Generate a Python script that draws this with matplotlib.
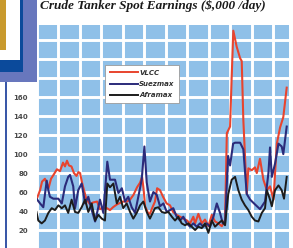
import numpy as np
import matplotlib
matplotlib.use("Agg")
import matplotlib.pyplot as plt
from matplotlib.patches import Rectangle
from matplotlib.lines import Line2D


# months from start of chart, $,000/day
vlccMonths = [0, 2.0, 3.1, 4.7, 5.9, 6.7, 8.1, 9.8, 11.4, 13.1, 14.8, 15.9, 17.0, 18.1, 19.5, 20.9,
              22.3, 23.4, 24.3, 25.4, 26.5, 27.9, 29.9, 31.5, 33.8, 35.4, 37.1, 39.3, 41.0, 42.7,
              44.9, 48.3, 50.5, 52.2, 54.1, 56.1, 57.8, 58.9, 59.7, 60.6, 62.2, 63.3, 64.5, 66.1,
              67.3, 68.9, 70.6, 72.6, 74.5, 76.2, 78.1, 80.1, 82.0, 84.0, 85.7, 87.5, 88.5, 90.3,
              92.2, 94.0, 95.9, 97.8, 99.6, 101.5, 103.4, 105.2, 106.2, 108.0, 108.9, 109.8, 111.7,
              113.6, 114.5, 115.4, 117.3, 118.2, 120.1, 121.9, 122.9, 124.7, 126.6, 128.5, 130.3,
              132.2, 134.1, 135.9, 137.7, 139.6]
vlcc = [52, 62, 71, 74, 68, 64, 74, 79, 84, 82, 91, 87, 93, 88, 87, 80, 77, 81, 80, 70,
        62, 52, 47, 49, 50, 42, 43, 43, 41, 44, 47, 50, 50, 52, 57, 65, 70, 76, 64, 45,
        38, 37, 43, 50, 64, 62, 55, 48, 46, 39, 36, 34, 32, 30, 27, 34, 27, 37, 27, 31,
        24, 36, 29, 27, 24, 31, 122, 129, 181, 230, 213, 201, 198, 136, 58, 85, 83, 86, 80, 95,
        73, 62, 66, 52, 111, 128, 139, 170]

suezMonths = [0, 2.0, 3.8, 5.7, 6.6, 7.5, 9.4, 12.2, 14.1, 15.9, 17.7, 18.7, 20.5, 21.5, 23.3,
              25.2, 27.1, 28.9, 30.8, 32.7, 34.5, 35.4, 37.3, 39.5, 41.0, 43.8, 45.7, 47.6, 49.4,
              51.2, 53.1, 55.0, 56.8, 58.7, 60.2, 61.5, 63.3, 65.2, 67.1, 68.9, 70.8, 72.7, 74.5,
              76.3, 78.2, 80.1, 81.9, 83.8, 85.7, 87.5, 89.4, 91.2, 93.1, 95.0, 96.8, 98.7, 100.6,
              102.4, 103.9, 105.2, 106.9, 108.0, 109.7, 110.8, 113.6, 115.4, 117.3, 119.2, 121.9,
              124.7, 127.5, 129.4, 130.3, 131.3, 133.1, 135.0, 136.8, 137.7, 139.6]
suezmax = [53, 48, 44, 72, 62, 55, 53, 53, 48, 66, 76, 78, 66, 43, 62, 69, 48, 55, 41, 29,
           44, 52, 38, 92, 73, 73, 59, 64, 50, 55, 44, 38, 55, 73, 108, 70, 50, 60, 57, 45,
           48, 39, 41, 43, 34, 30, 34, 27, 23.5, 27, 23.5, 27, 23.5, 27, 23.5, 34, 48, 38, 27, 27,
           98, 88, 111, 112, 112, 105, 58, 52, 47, 42, 50, 80, 107, 76, 90, 111, 108, 100, 129]

afraMonths = [0, 1.0, 2.9, 4.7, 6.6, 8.5, 10.3, 12.2, 14.1, 15.9, 17.7, 19.6, 21.5, 23.3, 25.2,
              27.1, 28.9, 30.8, 32.7, 34.5, 36.4, 38.2, 39.5, 41.0, 42.9, 44.8, 46.6, 48.4, 50.3,
              52.2, 54.0, 55.9, 57.8, 59.6, 61.5, 63.3, 66.1, 68.0, 69.9, 71.7, 73.6, 75.5, 77.3,
              79.1, 81.0, 82.9, 84.7, 86.6, 88.5, 90.3, 92.2, 94.0, 95.9, 97.8, 99.6, 101.5, 103.4,
              105.2, 107.0, 108.9, 110.8, 112.6, 114.5, 116.3, 118.2, 120.1, 121.9, 123.8, 125.7,
              127.5, 128.5, 130.3, 131.3, 133.1, 135.0, 136.8, 138.1, 139.6]
aframax = [39, 30, 27, 30, 38, 43, 41, 46, 43, 46, 38, 52, 39, 38, 44, 52, 39, 48, 30, 36,
           32, 30, 69, 65, 69, 48, 55, 43, 48, 39, 32, 38, 46, 50, 39, 32, 43, 44, 39, 38,
           39, 34, 30, 34, 27, 25, 27, 23.5, 20, 23.5, 22, 27, 17, 30, 23.5, 27, 30, 25, 58, 73,
           76, 62, 52, 46, 41, 34, 30, 29, 38, 43, 62, 52, 45, 62, 67, 62, 53, 76]

seriesNames = ["VLCC", "Suezmax", "Aframax"]
seriesColors = ["#e8442e", "#2b2b7a", "#1c1c1c"]
yTicks = [20, 40, 60, 80, 100, 120, 140, 160]
titleText = "Crude Tanker Spot Earnings ($,000 /day)"

W, H = 293, 248


def pxRect(x0, y0, x1, y1, color, z=10):
    # pixel box (top-left origin) -> figure rectangle
    return Rectangle((x0 / W, 1 - y1 / H), (x1 - x0) / W, (y1 - y0) / H,
                     transform=fig.transFigure, facecolor=color, edgecolor="none", zorder=z)


fig = plt.figure(figsize=(W / 100, H / 100), dpi=100)
fig.patch.set_facecolor("white")

ax = fig.add_axes([36.5 / W, -1 / H, 252 / W, 224 / H])
ax.set_facecolor("#8fc0e8")
ax.set_xlim(0, 140.6)
ax.set_ylim(0, 236)
ax.set_xticks(np.arange(0, 141, 12))
ax.set_yticks(np.arange(0, 236, 20))
ax.grid(True, color="white", linewidth=2.1)
ax.set_axisbelow(True)
for s in ax.spines.values():
    s.set_visible(False)
ax.tick_params(length=0, labelbottom=False, pad=6)
ax.set_yticklabels([str(v) if v in yTicks else "" for v in np.arange(0, 236, 20)],
                   fontsize=5, color="#4a4a4a", fontweight="bold")

ax.plot(vlccMonths, vlcc, color=seriesColors[0], lw=1.5)
ax.plot(suezMonths, suezmax, color=seriesColors[1], lw=1.5)
ax.plot(afraMonths, aframax, color=seriesColors[2], lw=1.4)

handles = [Line2D([], [], color=c, lw=1.4) for c in seriesColors]
leg = ax.legend(handles, seriesNames, loc="upper left",
                bbox_to_anchor=(105 / W, 1 - 65 / H), bbox_transform=fig.transFigure,
                borderaxespad=0, frameon=True, fancybox=False, framealpha=1,
                edgecolor="#9a9a9a", facecolor="white", handlelength=4.0,
                handletextpad=0.2, labelspacing=0.75, borderpad=0.7,
                prop={"size": 5, "weight": "bold", "style": "italic"})
leg.get_frame().set_linewidth(0.6)
for t in leg.get_texts():
    t.set_color("#333333")

fig.text(40 / W, 1 - 9 / H, titleText, ha="left", va="baseline", fontsize=9.5,
         family="Liberation Serif", fontweight="bold", style="italic", color="#1a1a1a")

# page decoration top-left
fig.add_artist(pxRect(0, 0, 37, 82, "#6877bd"))
fig.add_artist(pxRect(0, 0, 23, 72, "#0b4a9b"))
fig.add_artist(pxRect(0, 0, 20, 60, "white"))
fig.add_artist(pxRect(0, 0, 6, 50, "#c99a2e"))
fig.add_artist(pxRect(5, 82, 6.5, 248, "#3a58a8"))

fig.savefig("out.png", dpi=100)
